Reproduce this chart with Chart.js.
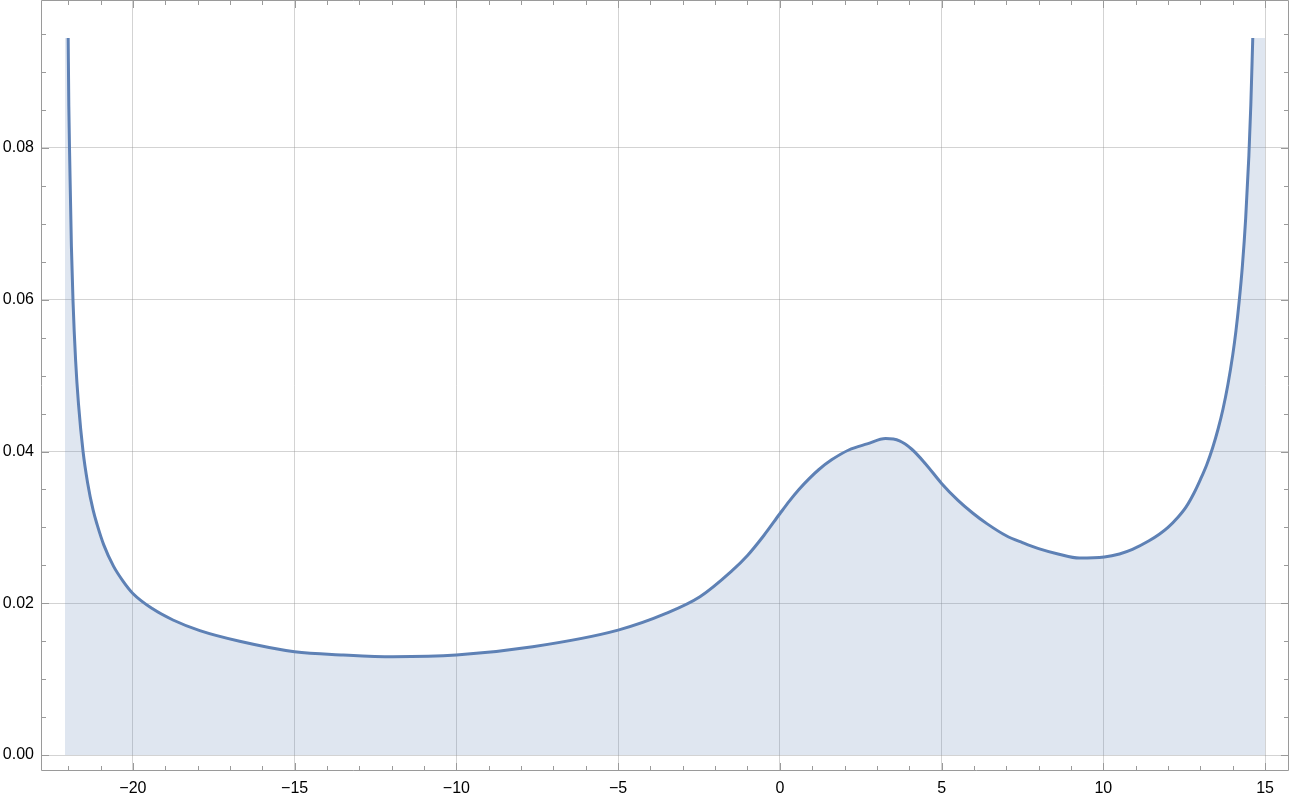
<!DOCTYPE html>
<html>
<head>
<meta charset="utf-8">
<script src="https://cdn.jsdelivr.net/npm/chart.js@4/dist/chart.umd.min.js"></script>
<style>
  html, body { margin: 0; padding: 0; background: #ffffff; }
  canvas { display: block; }
</style>
</head>
<body>
<canvas id="c" width="1292" height="798"></canvas>
<script>
// ---- data ----
const curveX = [-22.00, -21.98, -21.95, -21.90, -21.85, -21.77, -21.68, -21.54, -21.40, -21.23,
  -21.10, -20.90, -20.60, -20.30, -20.00, -19.40, -18.76, -17.93, -16.70, -15.00,
  -13.50, -11.96, -10.00, -7.64, -5.00, -3.50, -2.47, -1.50, -1.00, -0.50,
  0.00, 0.30, 0.59, 0.90, 1.20, 1.60, 2.13, 2.70, 3.27, 3.70,
  4.08, 4.50, 5.00, 5.50, 5.96, 6.40, 7.00, 7.50, 8.00, 8.60,
  9.26, 10.03, 10.50, 10.90, 11.40, 11.73, 12.00, 12.30, 12.56, 12.80,
  13.00, 13.20, 13.38, 13.55, 13.70, 13.85, 14.00, 14.10, 14.20, 14.30,
  14.40, 14.50, 14.56, 14.62];
const curveY = [0.0945, 0.0855, 0.0780, 0.0670, 0.0598, 0.0520, 0.0462, 0.0400, 0.0359, 0.0323,
  0.0303, 0.0277, 0.0249, 0.0229, 0.0213, 0.0193, 0.0178, 0.0164, 0.0150, 0.01362,
  0.0132, 0.01296, 0.01318, 0.01428, 0.01647, 0.0187, 0.02086, 0.0242, 0.0263, 0.0289,
  0.0318, 0.0335, 0.0350, 0.0364, 0.0376, 0.0389, 0.0402, 0.0410, 0.0417, 0.0414,
  0.0403, 0.0384, 0.0358, 0.0336, 0.0319, 0.0305, 0.0289, 0.0280, 0.0272, 0.0265,
  0.02596, 0.0261, 0.0265, 0.0271, 0.0282, 0.0291, 0.0300, 0.0313, 0.0327, 0.0345,
  0.0363, 0.0383, 0.0405, 0.0430, 0.0456, 0.0488, 0.0527, 0.0559, 0.0598, 0.0645,
  0.0707, 0.0790, 0.0857, 0.0945];
const domainX = [-22.1, 15.0];      // plotted domain (fill extent)
const plotCapY = 0.0945;            // plot range top (curve clipped there)
const xTickValues = [-20, -15, -10, -5, 0, 5, 10, 15];
const yTickValues = [0.00, 0.02, 0.04, 0.06, 0.08];
const xMinorStep = 1;
const yMinorStep = 0.005;

// ---- build datasets ----
const curvePoints = curveX.map((x, i) => ({ x: x, y: curveY[i] }));
const fillPoints = [{ x: domainX[0], y: plotCapY }]
  .concat(curvePoints)
  .concat([{ x: domainX[1], y: plotCapY }]);

const LINE = '#5e81b5';
const FRAME = '#9a9a9a';
const GRID = 'rgba(150,150,150,0.42)';
const FONT = { family: '"Liberation Sans", Arial, sans-serif', size: 16 };

const frameTicks = {
  id: 'frameTicks',
  afterDraw(chart) {
    const { ctx, chartArea: a, scales } = chart;
    const xs = scales.x, ys = scales.y;
    ctx.save();
    ctx.strokeStyle = FRAME;
    ctx.lineWidth = 1;
    ctx.beginPath();
    ctx.rect(a.left + 0.5, a.top + 0.5, a.right - a.left - 1, a.bottom - a.top - 1);
    ctx.stroke();
    ctx.beginPath();
    for (let v = Math.ceil(xs.min); v <= xs.max; v += xMinorStep) {
      const major = xTickValues.includes(v);
      const len = major ? 8 : 5;
      const px = Math.round(xs.getPixelForValue(v)) + 0.5;
      ctx.moveTo(px, a.bottom); ctx.lineTo(px, a.bottom - len);
      ctx.moveTo(px, a.top); ctx.lineTo(px, a.top + len);
    }
    const n0 = Math.ceil(ys.min / yMinorStep), n1 = Math.floor(ys.max / yMinorStep);
    for (let n = n0; n <= n1; n++) {
      const v = n * yMinorStep;
      const major = n % 4 === 0;
      const len = major ? 8 : 5;
      const py = Math.round(ys.getPixelForValue(v)) + 0.5;
      ctx.moveTo(a.left, py); ctx.lineTo(a.left + len, py);
      ctx.moveTo(a.right, py); ctx.lineTo(a.right - len, py);
    }
    ctx.stroke();
    ctx.restore();
  }
};

new Chart(document.getElementById('c'), {
  type: 'line',
  data: {
    datasets: [
      {
        data: curvePoints,
        borderColor: LINE,
        borderWidth: 3,
        pointRadius: 0,
        fill: false,
        cubicInterpolationMode: 'monotone',
        borderCapStyle: 'butt'
      },
      {
        data: fillPoints,
        borderWidth: 0,
        borderColor: 'rgba(0,0,0,0)',
        backgroundColor: 'rgba(94,129,181,0.2)',
        pointRadius: 0,
        fill: 'origin',
        cubicInterpolationMode: 'monotone'
      }
    ]
  },
  options: {
    responsive: false,
    devicePixelRatio: 1,
    animation: false,
    events: [],
    layout: { padding: { left: 0, right: 3, top: 0, bottom: 0 } },
    plugins: { legend: { display: false }, tooltip: { enabled: false } },
    scales: {
      x: {
        type: 'linear',
        position: 'bottom',
        min: -22.84,
        max: 15.74,
        afterBuildTicks: s => { s.ticks = xTickValues.map(v => ({ value: v })); },
        afterFit: s => { s.height = 27; s.paddingLeft = 0; s.paddingRight = 0; },
        ticks: {
          color: '#000',
          font: FONT,
          padding: 8,
          maxRotation: 0,
          autoSkip: false,
          callback: v => (v < 0 ? '\u2212' + Math.abs(v) : String(v))
        },
        grid: { color: GRID, lineWidth: 1, drawTicks: false },
        border: { display: false }
      },
      y: {
        type: 'linear',
        position: 'left',
        min: -0.0021,
        max: 0.0995,
        afterBuildTicks: s => { s.ticks = yTickValues.map(v => ({ value: v })); },
        afterFit: s => { s.width = 41; s.paddingTop = 0; s.paddingBottom = 0; },
        ticks: {
          color: '#000',
          font: FONT,
          padding: 7,
          callback: v => Number(v).toFixed(2)
        },
        grid: { color: GRID, lineWidth: 1, drawTicks: false },
        border: { display: false }
      }
    }
  },
  plugins: [frameTicks]
});
</script>
</body>
</html>
